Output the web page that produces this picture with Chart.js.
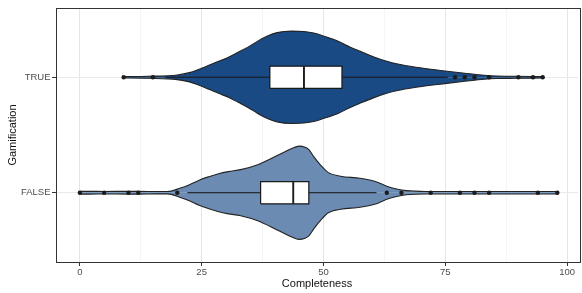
<!DOCTYPE html>
<html>
<head>
<meta charset="utf-8">
<script src="https://cdn.jsdelivr.net/npm/chart.js@4.4.1/dist/chart.umd.min.js"></script>
<style>
  html, body { margin: 0; padding: 0; background: #fff; }
  #wrap { width: 582px; height: 293px; }
</style>
</head>
<body>
<div id="wrap"><canvas id="violinChart"></canvas></div>
<script>
// ---------------- DATA ----------------
const groups = ["FALSE", "TRUE"];
const xTicks = [0, 25, 50, 75, 100];

// violin outline: completeness grid + half width (in group units)
const falseGrid  = [0, 2, 5, 10, 12, 16, 18, 20.5, 22.5, 24.5, 26.5, 28.5, 30.5, 33, 36.5, 40.5, 43.5, 45, 47, 48, 49.5, 51, 53.5, 57.5, 60.5, 63, 65, 67, 71, 79, 85.5, 91.5, 98];
const falseWidth = [0.012, 0.012, 0.011, 0.012, 0.012, 0.01, 0.01, 0.039, 0.07, 0.109, 0.139, 0.165, 0.183, 0.2, 0.243, 0.322, 0.383, 0.404, 0.374, 0.313, 0.235, 0.174, 0.143, 0.126, 0.1, 0.057, 0.033, 0.018, 0.011, 0.011, 0.011, 0.011, 0.011];
const trueGrid   = [9, 14, 20, 22.5, 24.5, 26.5, 28.5, 30.5, 32.5, 34.5, 36.5, 38.5, 40.5, 43.5, 46, 48, 50, 53, 55.5, 58, 60.5, 63, 65, 69, 74.5, 79, 83, 85.5, 89.5, 95];
const trueWidth  = [0.006, 0.009, 0.02, 0.04, 0.07, 0.104, 0.139, 0.174, 0.217, 0.261, 0.313, 0.357, 0.387, 0.4, 0.396, 0.383, 0.357, 0.313, 0.261, 0.217, 0.174, 0.139, 0.117, 0.087, 0.057, 0.035, 0.017, 0.011, 0.009, 0.006];

// boxplot: lower whisker, Q1, median, Q3, upper whisker
const falseBox = [22.1, 37.1, 43.8, 47.0, 60.9];
const trueBox  = [17.5, 39.0, 46.0, 53.8, 75.5];

const falseOutliers = [0, 5, 10, 12, 20, 63, 66, 72, 78, 81, 84, 94, 98];
const trueOutliers  = [9, 15, 77, 79, 81, 84, 90, 93, 95];

const fillColors = ["#6b8bb3", "#194a84"];

// ---------------- BUILD DATASETS ----------------
const BOX_HALF = 0.096;
const OUTLINE = "#222222";

function line(data, extra) {
  return Object.assign({
    data: data,
    showLine: true,
    pointRadius: 0,
    borderColor: "#111",
    borderWidth: 1,
    fill: false
  }, extra);
}

function violinSets(grid, width, center, color) {
  const top = grid.map((x, i) => ({ x: x, y: center + width[i] }));
  const bottom = grid.map((x, i) => ({ x: x, y: center - width[i] }));
  const common = {
    fill: { value: center },
    backgroundColor: color,
    borderColor: OUTLINE,
    borderWidth: 1.1,
    cubicInterpolationMode: "monotone",
    order: 10
  };
  return [line(top, common), line(bottom, common)];
}

function boxSets(box, center) {
  const [lo, q1, med, q3, hi] = box;
  const y0 = center - BOX_HALF, y1 = center + BOX_HALF;
  return [
    line([{ x: lo, y: center }, { x: q1, y: center }], { order: 8 }),
    line([{ x: q3, y: center }, { x: hi, y: center }], { order: 8 }),
    line([{ x: q1, y: y1 }, { x: q3, y: y1 }], { borderWidth: 0, fill: { value: y0 }, backgroundColor: "#ffffff", order: 7 }),
    line([{ x: q1, y: y0 }, { x: q3, y: y0 }, { x: q3, y: y1 }, { x: q1, y: y1 }, { x: q1, y: y0 }], { borderWidth: 1.2, borderColor: "#1a1a1a", order: 6 }),
    line([{ x: med, y: y0 }, { x: med, y: y1 }], { borderWidth: 1.9, borderColor: "#1a1a1a", order: 5 })
  ];
}

function outlierSet(values, center) {
  return {
    data: values.map(v => ({ x: v, y: center })),
    showLine: false,
    pointRadius: 2.2,
    pointBorderWidth: 0,
    pointBackgroundColor: "#1c1c1c",
    order: 1
  };
}

const datasets = [
  ...violinSets(falseGrid, falseWidth, 1, fillColors[0]),
  ...violinSets(trueGrid, trueWidth, 2, fillColors[1]),
  ...boxSets(falseBox, 1),
  ...boxSets(trueBox, 2),
  outlierSet(falseOutliers, 1),
  outlierSet(trueOutliers, 2)
];

// panel border (theme_bw style)
const panelBorder = {
  id: "panelBorder",
  afterDraw(chart) {
    const { ctx, chartArea: a } = chart;
    ctx.save();
    ctx.strokeStyle = "#333333";
    ctx.lineWidth = 1;
    ctx.strokeRect(a.left + 0.5, a.top + 0.5, a.right - a.left + 2, a.bottom - a.top);
    ctx.restore();
  }
};

Chart.defaults.font.family = "'Liberation Sans', Arial, sans-serif";

new Chart(document.getElementById("violinChart"), {
  type: "scatter",
  data: { datasets: datasets },
  options: {
    responsive: true,
    maintainAspectRatio: false,
    animation: false,
    layout: { padding: { top: 8, right: 0, left: 0, bottom: 0 } },
    plugins: { legend: { display: false }, tooltip: { enabled: false } },
    scales: {
      x: {
        type: "linear",
        min: -4.89,
        max: 102.24,
        afterBuildTicks: s => { s.ticks = [0, 12.5, 25, 37.5, 50, 62.5, 75, 87.5, 100].map(v => ({ value: v })); },
        afterFit: s => { s.height = 31; },
        border: { display: false },
        grid: {
          color: c => (c.tick && xTicks.includes(c.tick.value)) ? "#e6e6e6" : "#f0f0f0",
          lineWidth: c => (c.tick && xTicks.includes(c.tick.value)) ? 1 : 0.7,
          tickColor: c => (c.tick && xTicks.includes(c.tick.value)) ? "#333333" : "rgba(0,0,0,0)",
          tickLength: 4
        },
        ticks: {
          autoSkip: false,
          maxRotation: 0,
          padding: 1,
          color: "#4d4d4d",
          font: { size: 9.5 },
          callback: v => xTicks.includes(v) ? String(v) : ""
        },
        title: {
          display: true,
          text: "Completeness",
          color: "#111",
          font: { size: 11 },
          padding: { top: 0, bottom: 2.5 }
        }
      },
      y: {
        type: "linear",
        min: 0.4,
        max: 2.6,
        afterBuildTicks: s => { s.ticks = [1, 2].map(v => ({ value: v })); },
        afterFit: s => { s.width = 56; },
        border: { display: false },
        grid: {
          color: "#e9e9e9",
          lineWidth: 1,
          tickColor: "#333333",
          tickLength: 4
        },
        ticks: {
          padding: 1.5,
          color: "#4d4d4d",
          font: { size: 9.5 },
          callback: v => groups[v - 1]
        },
        title: {
          display: true,
          text: "Gamification",
          color: "#111",
          font: { size: 11 },
          padding: { top: 6.5, bottom: 0 }
        }
      }
    }
  },
  plugins: [panelBorder]
});
</script>
</body>
</html>
